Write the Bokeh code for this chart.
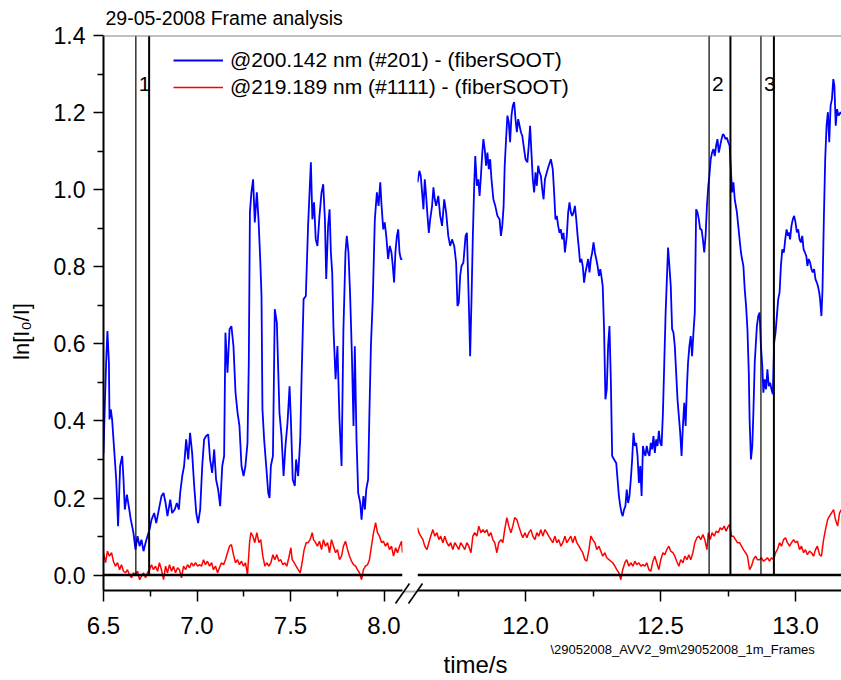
from math import pi

from bokeh.plotting import figure
from bokeh.models import (Range1d, FixedTicker, PrintfTickFormatter, Span, Label,
                          Legend, LegendItem, ColumnDataSource)
from bokeh.embed import file_html
from bokeh.resources import INLINE

# ---------------------------------------------------------------------------
# ln(I0/I) traces, two time windows (A: 6.5-8.1 s, B: 11.6-13.17 s)
# channel #201 = 200.142 nm, channel #1111 = 219.189 nm
# ---------------------------------------------------------------------------
t201_a = [
    6.500, 6.507, 6.514, 6.521, 6.529, 6.532, 6.539, 6.546, 6.557, 6.568,
    6.578, 6.589, 6.600, 6.607, 6.614, 6.625, 6.635, 6.646, 6.660, 6.671,
    6.682, 6.693, 6.703, 6.714, 6.725, 6.735, 6.746, 6.757, 6.771, 6.782,
    6.796, 6.810, 6.821, 6.832, 6.842, 6.857, 6.867, 6.881, 6.892, 6.903,
    6.910, 6.921, 6.931, 6.942, 6.953, 6.963, 6.974, 6.985, 6.996, 7.006,
    7.017, 7.028, 7.038, 7.049, 7.060, 7.070, 7.081, 7.092, 7.102, 7.113,
    7.124, 7.135, 7.145, 7.152, 7.163, 7.174, 7.184, 7.195, 7.206, 7.217,
    7.227, 7.238, 7.249, 7.259, 7.270, 7.277, 7.283, 7.291, 7.300, 7.309,
    7.320, 7.329, 7.338, 7.345, 7.350, 7.359, 7.370, 7.381, 7.388, 7.395,
    7.406, 7.416, 7.427, 7.441, 7.452, 7.463, 7.473, 7.484, 7.495, 7.502,
    7.512, 7.523, 7.530, 7.541, 7.552, 7.559, 7.570, 7.582, 7.594, 7.609,
    7.617, 7.626, 7.635, 7.644, 7.655, 7.666, 7.675, 7.684, 7.691, 7.701,
    7.709, 7.716, 7.723, 7.730, 7.741, 7.751, 7.762, 7.773, 7.783, 7.794,
    7.801, 7.810, 7.819, 7.828, 7.837, 7.844, 7.853, 7.862, 7.873, 7.880,
    7.890, 7.898, 7.905, 7.915, 7.922, 7.930, 7.940, 7.951, 7.962, 7.971,
    7.980, 7.987, 7.996, 8.004, 8.012, 8.022, 8.031, 8.040, 8.047, 8.054,
    8.061, 8.069, 8.076, 8.083, 8.090, 8.099,
]
y201_a = [
    0.317, 0.439, 0.551, 0.633, 0.551, 0.404, 0.430, 0.404, 0.326, 0.248,
    0.127, 0.283, 0.309, 0.248, 0.170, 0.209, 0.179, 0.144, 0.110, 0.066,
    0.101, 0.075, 0.092, 0.062, 0.084, 0.101, 0.118, 0.144, 0.161, 0.135,
    0.170, 0.205, 0.213, 0.187, 0.153, 0.196, 0.161, 0.170, 0.187, 0.170,
    0.213, 0.257, 0.283, 0.352, 0.300, 0.369, 0.317, 0.231, 0.161, 0.135,
    0.170, 0.283, 0.352, 0.361, 0.365, 0.300, 0.265, 0.326, 0.248, 0.222,
    0.179, 0.283, 0.309, 0.629, 0.525, 0.638, 0.646, 0.594, 0.473, 0.421,
    0.387, 0.283, 0.257, 0.283, 0.343, 0.551, 0.941, 0.993, 1.027, 0.915,
    0.993, 0.923, 0.820, 0.724, 0.430, 0.352, 0.283, 0.213, 0.200, 0.283,
    0.309, 0.690, 0.655, 0.421, 0.361, 0.257, 0.335, 0.395, 0.490, 0.404,
    0.248, 0.231, 0.300, 0.257, 0.352, 0.508, 0.716, 0.724, 0.906, 1.071,
    0.923, 0.967, 0.871, 0.854, 0.932, 0.993, 1.014, 0.923, 0.768, 0.906,
    0.949, 0.837, 0.785, 0.638, 0.508, 0.594, 0.404, 0.283, 0.638, 0.837,
    0.880, 0.837, 0.724, 0.577, 0.387, 0.594, 0.352, 0.213, 0.187, 0.144,
    0.205, 0.170, 0.222, 0.248, 0.421, 0.594, 0.716, 0.923, 0.993, 0.958,
    1.019, 0.958, 0.897, 0.915, 0.880, 0.820, 0.854, 0.837, 0.802, 0.759,
    0.837, 0.880, 0.897, 0.837, 0.820, 0.820,
]

t1111_a = [
    6.500, 6.511, 6.521, 6.532, 6.543, 6.553, 6.564, 6.575, 6.586, 6.596,
    6.607, 6.618, 6.628, 6.639, 6.650, 6.660, 6.671, 6.682, 6.693, 6.703,
    6.714, 6.725, 6.735, 6.746, 6.757, 6.767, 6.778, 6.789, 6.799, 6.810,
    6.821, 6.832, 6.842, 6.853, 6.864, 6.874, 6.885, 6.896, 6.906, 6.917,
    6.928, 6.939, 6.949, 6.960, 6.971, 6.981, 6.992, 7.003, 7.013, 7.024,
    7.035, 7.045, 7.056, 7.067, 7.078, 7.088, 7.099, 7.110, 7.120, 7.131,
    7.142, 7.152, 7.163, 7.174, 7.184, 7.195, 7.206, 7.217, 7.227, 7.238,
    7.249, 7.259, 7.270, 7.281, 7.288, 7.299, 7.309, 7.320, 7.331, 7.341,
    7.352, 7.363, 7.373, 7.384, 7.395, 7.406, 7.416, 7.427, 7.438, 7.448,
    7.459, 7.470, 7.480, 7.491, 7.502, 7.509, 7.520, 7.530, 7.541, 7.552,
    7.562, 7.573, 7.584, 7.594, 7.605, 7.616, 7.623, 7.634, 7.644, 7.655,
    7.666, 7.676, 7.687, 7.698, 7.709, 7.719, 7.730, 7.741, 7.751, 7.762,
    7.773, 7.783, 7.794, 7.805, 7.816, 7.826, 7.837, 7.848, 7.858, 7.869,
    7.880, 7.890, 7.901, 7.912, 7.922, 7.933, 7.944, 7.955, 7.965, 7.976,
    7.987, 7.997, 8.008, 8.019, 8.029, 8.040, 8.051, 8.062, 8.072, 8.083,
    8.094, 8.099,
]
y1111_a = [
    0.058, 0.032, 0.062, 0.049, 0.058, 0.036, 0.023, 0.032, 0.014, 0.027,
    0.010, 0.006, 0.014, 0.001, -0.007, 0.006, 0.001, 0.010, -0.012, -0.003,
    0.006, -0.007, 0.006, 0.014, 0.027, 0.014, 0.023, 0.010, 0.032, 0.014,
    -0.012, 0.023, 0.006, 0.027, 0.010, 0.023, 0.006, 0.019, 0.014, -0.007,
    0.023, 0.014, 0.027, 0.019, 0.032, 0.023, 0.032, 0.023, 0.027, 0.023,
    0.040, 0.027, 0.036, 0.023, 0.032, 0.014, 0.023, 0.006, 0.019, 0.032,
    0.027, 0.040, 0.058, 0.075, 0.079, 0.053, 0.032, 0.040, 0.027, 0.036,
    0.023, 0.032, 0.001, 0.084, 0.110, 0.101, 0.084, 0.110, 0.084, 0.092,
    0.049, 0.023, 0.032, 0.023, 0.032, 0.053, 0.040, 0.053, 0.036, 0.040,
    0.027, 0.032, 0.023, 0.045, 0.071, 0.040, 0.032, 0.023, 0.014, 0.006,
    0.032, 0.066, 0.084, 0.084, 0.092, 0.110, 0.092, 0.084, 0.075, 0.088,
    0.066, 0.092, 0.075, 0.084, 0.058, 0.092, 0.075, 0.058, 0.066, 0.040,
    0.049, 0.075, 0.088, 0.066, 0.049, 0.036, 0.027, 0.023, 0.014, 0.006,
    -0.012, 0.014, 0.023, 0.027, 0.040, 0.075, 0.110, 0.136, 0.110, 0.101,
    0.084, 0.088, 0.075, 0.084, 0.066, 0.075, 0.049, 0.071, 0.058, 0.075,
    0.088, 0.058,
]

t201_b = [
    11.600, 11.607, 11.612, 11.617, 11.622, 11.627, 11.632, 11.637, 11.642, 11.647,
    11.654, 11.659, 11.664, 11.669, 11.677, 11.684, 11.691, 11.699, 11.706, 11.714,
    11.721, 11.728, 11.736, 11.743, 11.748, 11.753, 11.758, 11.763, 11.770, 11.778,
    11.783, 11.791, 11.795, 11.800, 11.805, 11.810, 11.814, 11.820, 11.825, 11.830,
    11.835, 11.840, 11.844, 11.849, 11.854, 11.859, 11.864, 11.869, 11.874, 11.881,
    11.888, 11.896, 11.904, 11.909, 11.914, 11.919, 11.923, 11.928, 11.933, 11.938,
    11.943, 11.948, 11.953, 11.958, 11.963, 11.968, 11.973, 11.978, 11.983, 11.988,
    11.993, 12.000, 12.007, 12.012, 12.017, 12.022, 12.027, 12.032, 12.037, 12.042,
    12.047, 12.052, 12.057, 12.062, 12.067, 12.072, 12.079, 12.086, 12.094, 12.101,
    12.106, 12.111, 12.116, 12.121, 12.126, 12.131, 12.136, 12.141, 12.146, 12.153,
    12.158, 12.163, 12.168, 12.173, 12.178, 12.183, 12.188, 12.193, 12.198, 12.202,
    12.207, 12.212, 12.217, 12.222, 12.227, 12.232, 12.237, 12.242, 12.247, 12.252,
    12.257, 12.262, 12.267, 12.272, 12.277, 12.281, 12.286, 12.291, 12.296, 12.301,
    12.306, 12.311, 12.316, 12.321, 12.328, 12.336, 12.341, 12.346, 12.351, 12.356,
    12.360, 12.365, 12.370, 12.375, 12.380, 12.385, 12.390, 12.395, 12.400, 12.405,
    12.410, 12.415, 12.420, 12.425, 12.430, 12.435, 12.440, 12.444, 12.449, 12.454,
    12.459, 12.464, 12.469, 12.474, 12.479, 12.484, 12.489, 12.494, 12.499, 12.504,
    12.509, 12.514, 12.519, 12.528, 12.533, 12.538, 12.543, 12.548, 12.553, 12.558,
    12.563, 12.568, 12.573, 12.578, 12.583, 12.588, 12.593, 12.598, 12.602, 12.607,
    12.612, 12.617, 12.622, 12.627, 12.632, 12.637, 12.642, 12.647, 12.652, 12.657,
    12.662, 12.667, 12.672, 12.677, 12.681, 12.686, 12.691, 12.696, 12.701, 12.706,
    12.711, 12.716, 12.721, 12.726, 12.731, 12.736, 12.741, 12.746, 12.751, 12.756,
    12.760, 12.765, 12.770, 12.775, 12.783, 12.788, 12.793, 12.798, 12.802, 12.807,
    12.812, 12.817, 12.822, 12.827, 12.830, 12.835, 12.840, 12.844, 12.849, 12.857,
    12.862, 12.867, 12.872, 12.877, 12.881, 12.886, 12.891, 12.896, 12.901, 12.906,
    12.911, 12.916, 12.921, 12.926, 12.931, 12.936, 12.941, 12.946, 12.951, 12.957,
    12.962, 12.967, 12.972, 12.975, 12.980, 12.985, 12.990, 12.995, 13.000, 13.005,
    13.010, 13.015, 13.020, 13.025, 13.030, 13.035, 13.040, 13.044, 13.049, 13.054,
    13.059, 13.064, 13.069, 13.074, 13.079, 13.083, 13.088, 13.091, 13.096, 13.100,
    13.105, 13.110, 13.115, 13.120, 13.125, 13.130, 13.135, 13.140, 13.144, 13.149,
    13.154, 13.159, 13.167, 13.174,
]
y201_b = [
    1.019, 1.049, 1.036, 0.993, 0.949, 1.027, 0.984, 0.932, 0.888, 0.923,
    0.958, 1.006, 0.975, 0.958, 0.984, 0.932, 0.906, 0.975, 0.941, 0.880,
    0.854, 0.871, 0.854, 0.811, 0.698, 0.707, 0.776, 0.802, 0.811, 0.880,
    0.888, 0.681, 0.568, 0.716, 0.880, 1.010, 1.087, 1.010, 1.027, 0.984,
    1.036, 1.096, 1.131, 1.105, 1.062, 1.096, 1.053, 1.079, 1.027, 0.975,
    0.958, 0.932, 0.923, 0.880, 0.906, 0.958, 1.062, 1.131, 1.192, 1.175,
    1.123, 1.192, 1.218, 1.227, 1.183, 1.149, 1.183, 1.166, 1.149, 1.140,
    1.114, 1.079, 1.071, 1.114, 1.166, 1.096, 1.027, 0.993, 1.045, 1.010,
    1.062, 1.045, 1.036, 1.001, 0.975, 1.027, 1.045, 1.062, 1.079, 1.053,
    0.993, 0.923, 0.932, 0.906, 0.888, 0.897, 0.871, 0.888, 0.837, 0.880,
    0.941, 0.967, 0.941, 0.932, 0.941, 0.958, 0.923, 0.880, 0.845, 0.811,
    0.820, 0.802, 0.759, 0.785, 0.802, 0.820, 0.785, 0.820, 0.837, 0.863,
    0.837, 0.820, 0.802, 0.776, 0.794, 0.776, 0.750, 0.638, 0.456, 0.482,
    0.594, 0.646, 0.508, 0.309, 0.300, 0.291, 0.248, 0.205, 0.179, 0.161,
    0.153, 0.170, 0.179, 0.222, 0.187, 0.205, 0.248, 0.300, 0.369, 0.335,
    0.343, 0.309, 0.239, 0.283, 0.205, 0.335, 0.317, 0.309, 0.335, 0.317,
    0.309, 0.343, 0.326, 0.361, 0.317, 0.352, 0.335, 0.374, 0.343, 0.335,
    0.421, 0.551, 0.681, 0.850, 0.802, 0.750, 0.638, 0.629, 0.594, 0.525,
    0.456, 0.412, 0.369, 0.309, 0.387, 0.447, 0.387, 0.490, 0.551, 0.594,
    0.620, 0.568, 0.629, 0.681, 0.949, 0.941, 0.923, 0.897, 0.897, 0.871,
    0.837, 0.880, 0.958, 1.010, 1.036, 1.079, 1.096, 1.105, 1.087, 1.114,
    1.131, 1.096, 1.114, 1.131, 1.144, 1.140, 1.131, 1.135, 1.123, 1.114,
    1.062, 0.993, 1.019, 0.975, 0.941, 0.906, 0.871, 0.837, 0.820, 0.802,
    0.741, 0.698, 0.638, 0.525, 0.404, 0.300, 0.335, 0.421, 0.551, 0.646,
    0.672, 0.681, 0.594, 0.542, 0.473, 0.508, 0.482, 0.534, 0.490, 0.499,
    0.482, 0.469, 0.603, 0.629, 0.672, 0.716, 0.733, 0.802, 0.845, 0.837,
    0.871, 0.897, 0.880, 0.889, 0.871, 0.906, 0.923, 0.932, 0.915, 0.889,
    0.897, 0.871, 0.863, 0.880, 0.845, 0.837, 0.828, 0.802, 0.820, 0.811,
    0.794, 0.785, 0.794, 0.768, 0.759, 0.750, 0.733, 0.716, 0.672, 0.741,
    0.923, 1.079, 1.166, 1.201, 1.123, 1.218, 1.235, 1.287, 1.270, 1.166,
    1.209, 1.192, 1.201, 1.192,
]

t1111_b = [
    11.600, 11.605, 11.612, 11.620, 11.627, 11.635, 11.642, 11.649, 11.657, 11.664,
    11.672, 11.679, 11.686, 11.694, 11.701, 11.709, 11.716, 11.723, 11.731, 11.738,
    11.746, 11.753, 11.760, 11.768, 11.775, 11.783, 11.790, 11.798, 11.805, 11.812,
    11.820, 11.827, 11.835, 11.842, 11.849, 11.857, 11.864, 11.872, 11.879, 11.886,
    11.894, 11.901, 11.909, 11.916, 11.923, 11.931, 11.938, 11.946, 11.953, 11.960,
    11.968, 11.975, 11.983, 11.990, 11.998, 12.005, 12.012, 12.020, 12.027, 12.035,
    12.042, 12.049, 12.057, 12.064, 12.072, 12.079, 12.086, 12.094, 12.101, 12.109,
    12.116, 12.123, 12.131, 12.138, 12.146, 12.153, 12.160, 12.168, 12.175, 12.183,
    12.190, 12.198, 12.205, 12.212, 12.220, 12.227, 12.235, 12.242, 12.249, 12.257,
    12.264, 12.272, 12.279, 12.286, 12.294, 12.301, 12.309, 12.316, 12.323, 12.331,
    12.338, 12.346, 12.353, 12.360, 12.368, 12.375, 12.383, 12.390, 12.398, 12.405,
    12.412, 12.420, 12.427, 12.435, 12.442, 12.449, 12.457, 12.464, 12.472, 12.479,
    12.486, 12.494, 12.501, 12.509, 12.516, 12.523, 12.531, 12.538, 12.546, 12.553,
    12.560, 12.568, 12.575, 12.583, 12.590, 12.598, 12.605, 12.612, 12.620, 12.627,
    12.635, 12.642, 12.649, 12.657, 12.664, 12.672, 12.677, 12.684, 12.691, 12.699,
    12.706, 12.714, 12.721, 12.728, 12.736, 12.743, 12.751, 12.756, 12.763, 12.770,
    12.778, 12.785, 12.793, 12.800, 12.807, 12.815, 12.822, 12.830, 12.837, 12.844,
    12.852, 12.859, 12.867, 12.874, 12.881, 12.889, 12.896, 12.904, 12.911, 12.919,
    12.926, 12.933, 12.941, 12.948, 12.956, 12.963, 12.970, 12.978, 12.985, 12.993,
    13.000, 13.007, 13.015, 13.022, 13.030, 13.037, 13.044, 13.052, 13.059, 13.067,
    13.074, 13.081, 13.089, 13.096, 13.104, 13.111, 13.119, 13.126, 13.133, 13.141,
    13.148, 13.156, 13.163, 13.170,
]
y1111_b = [
    0.123, 0.110, 0.101, 0.092, 0.075, 0.066, 0.084, 0.101, 0.118, 0.101,
    0.110, 0.092, 0.101, 0.084, 0.101, 0.084, 0.075, 0.084, 0.066, 0.084,
    0.075, 0.066, 0.084, 0.075, 0.066, 0.084, 0.075, 0.058, 0.101, 0.110,
    0.101, 0.127, 0.110, 0.118, 0.110, 0.118, 0.101, 0.110, 0.092, 0.084,
    0.058, 0.084, 0.092, 0.084, 0.118, 0.149, 0.127, 0.110, 0.127, 0.149,
    0.144, 0.127, 0.110, 0.097, 0.110, 0.097, 0.110, 0.118, 0.101, 0.092,
    0.110, 0.101, 0.118, 0.101, 0.118, 0.110, 0.101, 0.092, 0.084, 0.101,
    0.084, 0.092, 0.075, 0.084, 0.101, 0.084, 0.092, 0.101, 0.084, 0.101,
    0.084, 0.075, 0.066, 0.058, 0.040, 0.036, 0.066, 0.101, 0.092, 0.084,
    0.066, 0.075, 0.062, 0.049, 0.058, 0.045, 0.040, 0.036, 0.032, 0.023,
    0.014, 0.006, -0.012, 0.014, 0.032, 0.040, 0.023, 0.032, 0.023, 0.036,
    0.027, 0.032, 0.023, 0.027, 0.023, 0.032, 0.014, 0.010, 0.036, 0.049,
    0.032, 0.014, 0.040, 0.058, 0.053, 0.066, 0.075, 0.062, 0.058, 0.049,
    0.036, 0.023, 0.040, 0.032, 0.049, 0.040, 0.053, 0.040, 0.058, 0.084,
    0.097, 0.101, 0.092, 0.105, 0.092, 0.066, 0.110, 0.092, 0.110, 0.101,
    0.114, 0.110, 0.123, 0.118, 0.127, 0.114, 0.127, 0.131, 0.101, 0.101,
    0.092, 0.084, 0.084, 0.075, 0.066, 0.058, 0.049, 0.014, 0.023, 0.040,
    0.049, 0.040, 0.040, 0.045, 0.036, 0.040, 0.045, 0.036, 0.045, 0.040,
    0.058, 0.066, 0.084, 0.075, 0.092, 0.097, 0.084, 0.075, 0.084, 0.092,
    0.084, 0.088, 0.066, 0.075, 0.058, 0.066, 0.053, 0.062, 0.058, 0.049,
    0.066, 0.075, 0.053, 0.049, 0.092, 0.118, 0.144, 0.153, 0.161, 0.170,
    0.144, 0.127, 0.161, 0.170,
]

# analysed frames: start / end time of each numbered frame
frame_ids = ["1", "2", "3"]
frame_start = [6.673, 12.680, 12.872]
frame_end = [6.744, 12.759, 12.920]

y_ticks = [0.0, 0.2, 0.4, 0.6, 0.8, 1.0, 1.2, 1.4]
y_minor = [0.1, 0.3, 0.5, 0.7, 0.9, 1.1, 1.3]
x_ticks_a = [6.5, 7.0, 7.5, 8.0]
x_minor_a = [6.75, 7.25, 7.75]
x_ticks_b = [12.0, 12.5, 13.0]
x_minor_b = [11.75, 12.25, 12.75]

label_201 = "@200.142 nm (#201) - (fiberSOOT)"
label_1111 = "@219.189 nm (#1111) - (fiberSOOT)"
title_text = "29-05-2008 Frame analysis"
file_text = "\\29052008_AVV2_9m\\29052008_1m_Frames"

# ---------------------------------------------------------------------------
# layout (screen pixels)
# ---------------------------------------------------------------------------
W, H = 841, 680
FONT = "Liberation Sans"
TOP, BOTTOM = 35, 590
LEFT_A, RIGHT_A = 103, 402
LEFT_B = 417
PX_A, PX_B = 187.0, 270.0          # pixels per second in each window
Y_LO, Y_HI = -0.04, 1.4
BLUE, RED = "#0000ff", "#ff0000"
BLUE_W, RED_W = 1.8, 1.5

x_range_a = Range1d(6.5, 6.5 + (RIGHT_A - LEFT_A) / PX_A)
x_range_b = Range1d(11.6, 11.6 + (W - LEFT_B) / PX_B)


def window(x_range, left, right, with_y_axis):
    p = figure(width=W, height=H, x_range=x_range,
               y_range=Range1d(Y_LO, Y_HI),
               output_backend="svg", toolbar_location=None,
               y_axis_location="left" if with_y_axis else None,
               min_border_left=left, min_border_right=right,
               min_border_top=TOP, min_border_bottom=H - BOTTOM)
    p.outline_line_color = None
    p.grid.visible = False
    ax = p.xaxis[0]
    ax.formatter = PrintfTickFormatter(format="%.1f")
    ax.axis_line_color = "black"
    ax.axis_line_width = 2
    ax.major_tick_line_width = 1.5
    ax.minor_tick_line_width = 1.5
    ax.major_tick_in = 0
    ax.major_tick_out = 11
    ax.minor_tick_in = 0
    ax.minor_tick_out = 6
    ax.major_label_text_font = FONT
    ax.major_label_text_font_size = "24px"
    ax.major_label_text_color = "black"
    ax.major_label_standoff = 15
    # zero baseline
    p.add_layout(Span(location=0, dimension="width", line_color="black",
                      line_width=2.5))
    return p


# window A (carries the ln axis)
pa = window(x_range_a, LEFT_A, W - RIGHT_A, True)
pa.xaxis[0].ticker = FixedTicker(ticks=x_ticks_a, minor_ticks=x_minor_a)
ya = pa.yaxis[0]
ya.ticker = FixedTicker(ticks=y_ticks, minor_ticks=y_minor)
ya.formatter = PrintfTickFormatter(format="%.1f")
ya.axis_line_color = "black"
ya.axis_line_width = 2
ya.major_tick_line_width = 1.5
ya.minor_tick_line_width = 1.5
ya.major_tick_in = 0
ya.major_tick_out = 10
ya.minor_tick_in = 0
ya.minor_tick_out = 6
ya.major_label_text_font = FONT
ya.major_label_text_font_size = "23px"
ya.major_label_text_color = "black"
ya.major_label_standoff = 8

# window B (transparent canvas, stacked over A's right margin)
pb = window(x_range_b, LEFT_B, 0, False)
pb.xaxis[0].ticker = FixedTicker(ticks=x_ticks_b, minor_ticks=x_minor_b)
pb.background_fill_color = None
pb.border_fill_color = None

# traces
pa.line(t201_a, y201_a, line_color=BLUE, line_width=BLUE_W)
pa.line(t1111_a, y1111_a, line_color=RED, line_width=RED_W)
pb.line(t201_b, y201_b, line_color=BLUE, line_width=BLUE_W)
pb.line(t1111_b, y1111_b, line_color=RED, line_width=RED_W)

# frame markers
for p, rng in ((pa, x_range_a), (pb, x_range_b)):
    xs, widths = [], []
    for fid, t0, t1 in zip(frame_ids, frame_start, frame_end):
        if rng.start <= t0 <= rng.end:
            xs += [t0, t1]
            widths += [1.2, 2.0]
            p.add_layout(Label(x=t0, y=1.275, x_offset=3, text=fid,
                               text_font=FONT, text_font_size="21px",
                               text_color="black", text_baseline="middle"))
    src = ColumnDataSource(dict(x=xs, w=widths))
    p.segment(x0="x", y0=0, x1="x", y1=Y_HI, source=src,
              line_color="black", line_width="w")

# overlay canvas for page-level texts, the legend and the axis break
po = figure(width=W, height=H, x_range=Range1d(0, W), y_range=Range1d(H, 0),
            output_backend="svg", toolbar_location=None,
            x_axis_location=None, y_axis_location=None, min_border=0)
po.outline_line_color = None
po.grid.visible = False
po.background_fill_color = None
po.border_fill_color = None

po.line([LEFT_A, W], [TOP + 0.5, TOP + 0.5], line_color="#808080", line_width=1)
po.line([RIGHT_A, LEFT_B], [BOTTOM + 1, BOTTOM + 1], line_color="#b0b0b0",
        line_width=2)
po.segment(x0=[395, 408], y0=[603, 603], x1=[409, 422], y1=[583, 583],
           line_color="black", line_width=1.6)

# legend keys: same styling as the traces, kept off-canvas
key_201 = po.line([-50, -40], [-50, -50], line_color=BLUE, line_width=BLUE_W)
key_1111 = po.line([-50, -40], [-60, -60], line_color=RED, line_width=RED_W)
legend = Legend(items=[LegendItem(label=label_201, renderers=[key_201]),
                       LegendItem(label=label_1111, renderers=[key_1111])],
                location=(173, H - 99), orientation="vertical",
                glyph_width=50, glyph_height=24, label_height=24,
                label_standoff=7, spacing=3, padding=0, margin=0,
                border_line_color=None, background_fill_alpha=0,
                label_text_font=FONT, label_text_font_size="21px",
                label_text_color="black")
po.add_layout(legend)

po.add_layout(Label(x=105, y=17.5, text=title_text, text_font=FONT,
                    text_font_size="19.5px", text_color="black",
                    text_baseline="middle"))
po.add_layout(Label(x=21, y=331, text="ln[I\u2080/I]", angle=pi / 2,
                    text_font=FONT, text_font_size="22px", text_color="black",
                    text_align="center", text_baseline="middle"))
po.add_layout(Label(x=475, y=664, text="time/s", text_font=FONT,
                    text_font_size="24px", text_color="black",
                    text_align="center", text_baseline="middle"))
po.add_layout(Label(x=550, y=648.5, text=file_text, text_font=FONT,
                    text_font_size="13px", text_color="black",
                    text_baseline="middle"))

# the three canvases share one 841x680 box, stacked on top of each other
STACKED = """
{% block contents %}
<div style="position: relative; width: 841px; height: 680px;">
{%- for doc in docs %}
{%- for root in doc.roots %}
<div style="position: absolute; left: 0px; top: 0px;"><div id="{{ root.elementid }}" data-root-id="{{ root.id }}" style="display: contents;"></div></div>
{%- endfor %}
{%- endfor %}
</div>
{% endblock %}
"""

open("out.html", "w").write(file_html([pa, pb, po], INLINE, template=STACKED))
